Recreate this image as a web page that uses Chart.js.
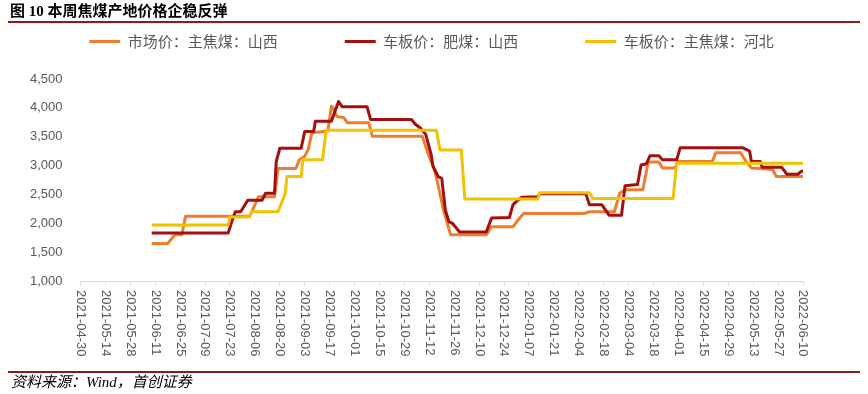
<!DOCTYPE html>
<html><head><meta charset="utf-8">
<script src="https://cdn.jsdelivr.net/npm/chart.js@4.4.1/dist/chart.umd.min.js"></script>
<style>
html,body{margin:0;padding:0;background:#fff;}
#wrap{position:relative;width:868px;height:394px;overflow:hidden;background:#fff;}
#c{position:absolute;left:0;top:0;}
.title{position:absolute;left:10px;top:3px;font:bold 15px 'Liberation Serif','Noto Sans CJK SC',serif;color:#000;white-space:nowrap;line-height:17px}
.rule{position:absolute;left:8px;width:852px;height:2px;background:#8E1B1B}
.src{position:absolute;left:11px;top:374px;font:italic 15px 'Liberation Serif','Noto Sans CJK SC',serif;color:#000;line-height:17px;white-space:nowrap}
</style></head>
<body><div id="wrap">
<canvas id="c" width="868" height="394"></canvas>
<div class="title">图 10 本周焦煤产地价格企稳反弹</div>
<div class="rule" style="top:21px"></div>
<div class="rule" style="top:371px"></div>
<div class="src">资料来源：Wind，首创证券</div>
</div>
<script>
// ---- data ----
const axisStart = '2021-04-30';
const axisEnd = '2022-06-10';
const tickStepDays = 14;
const yMin = 1000, yMax = 4500, yStep = 500;

const seriesNames = ['市场价：主焦煤：山西', '车板价：肥煤：山西', '车板价：主焦煤：河北'];

const marketDates = ['2021-06-09','2021-06-18','2021-06-22','2021-06-26','2021-06-28','2021-08-03','2021-08-06','2021-08-08','2021-08-17','2021-08-19','2021-08-29','2021-08-31','2021-09-03','2021-09-05','2021-09-07','2021-09-16','2021-09-18','2021-09-19','2021-09-21','2021-09-25','2021-09-27','2021-10-09','2021-10-11','2021-11-08','2021-11-10','2021-11-12','2021-11-15','2021-11-17','2021-11-20','2021-11-24','2021-12-14','2021-12-17','2021-12-29','2022-01-01','2022-01-04','2022-02-07','2022-02-10','2022-02-24','2022-02-27','2022-03-02','2022-03-12','2022-03-15','2022-03-21','2022-03-23','2022-03-30','2022-04-01','2022-04-20','2022-04-22','2022-05-06','2022-05-09','2022-05-12','2022-05-24','2022-05-26','2022-06-10'];
const marketValues = [1650,1650,1800,1800,2120,2120,2320,2460,2460,2950,2950,3100,3160,3280,3570,3600,4030,4000,3850,3830,3740,3740,3510,3510,3330,3150,2930,2650,2230,1800,1800,1940,1940,2060,2170,2170,2200,2200,2520,2580,2580,3060,3060,2960,2960,3070,3070,3220,3220,3070,2960,2930,2810,2810];

const fatDates = ['2021-06-09','2021-07-22','2021-07-24','2021-07-26','2021-07-29','2021-08-02','2021-08-10','2021-08-12','2021-08-17','2021-08-18','2021-08-20','2021-09-01','2021-09-03','2021-09-08','2021-09-09','2021-09-18','2021-09-22','2021-09-24','2021-10-08','2021-10-10','2021-11-02','2021-11-04','2021-11-07','2021-11-10','2021-11-13','2021-11-14','2021-11-17','2021-11-19','2021-11-21','2021-11-23','2021-11-25','2021-11-29','2021-12-14','2021-12-17','2021-12-27','2021-12-29','2021-12-31','2022-01-03','2022-01-12','2022-01-13','2022-02-08','2022-02-10','2022-02-17','2022-02-21','2022-02-28','2022-03-02','2022-03-09','2022-03-11','2022-03-14','2022-03-16','2022-03-21','2022-03-23','2022-03-31','2022-04-02','2022-05-07','2022-05-11','2022-05-12','2022-05-17','2022-05-18','2022-05-29','2022-06-01','2022-06-07','2022-06-09','2022-06-10'];
const fatValues = [1830,1830,2030,2200,2200,2400,2400,2520,2520,3070,3300,3300,3590,3590,3770,3770,4110,4020,4020,3800,3800,3720,3650,3540,3200,2990,2810,2780,2230,2030,2000,1850,1850,2090,2100,2320,2380,2450,2460,2510,2510,2320,2320,2140,2140,2650,2670,3010,3030,3170,3170,3100,3100,3310,3310,3250,3070,3070,2970,2970,2850,2850,2900,2900];

const hebeiDates = ['2021-06-09','2021-07-22','2021-07-23','2021-08-03','2021-08-04','2021-08-19','2021-08-20','2021-08-23','2021-08-24','2021-09-01','2021-09-02','2021-09-13','2021-09-15','2021-11-16','2021-11-18','2021-11-30','2021-12-02','2022-01-12','2022-01-13','2022-02-10','2022-02-12','2022-03-29','2022-03-31','2022-06-10'];
const hebeiValues = [1970,1970,2110,2110,2200,2200,2280,2510,2810,2810,3100,3100,3610,3610,3270,3270,2420,2420,2530,2530,2430,2430,3040,3040];

const seriesColors = ['#ED7D31', '#A50F0F', '#F2C100'];

// ---- helpers ----
const base = (function(){const p=axisStart.split('-').map(Number);return Date.UTC(p[0],p[1]-1,p[2]);})();
function dayOf(s){const p=s.split('-').map(Number);return Math.round((Date.UTC(p[0],p[1]-1,p[2])-base)/86400000);}
function dateOf(n){return new Date(base+n*86400000).toISOString().slice(0,10);}
function pts(ds,vs){return ds.map((d,i)=>({x:dayOf(d),y:vs[i]}));}

const xLabelPlugin = {
  id:'xLabels',
  afterDraw(chart){
    const s=chart.scales.x, ctx=chart.ctx;
    ctx.save();
    ctx.font='13px "Liberation Sans", Arial, sans-serif';
    ctx.fillStyle='#595959';
    ctx.textAlign='left';
    ctx.textBaseline='middle';
    s.ticks.forEach(t=>{
      const x=s.getPixelForValue(t.value);
      ctx.save();
      ctx.translate(x, s.top+9);
      ctx.rotate(Math.PI/2);
      ctx.fillText(dateOf(t.value),0,0);
      ctx.restore();
    });
    ctx.restore();
  }
};

const mk=(i,ds,vs,order)=>({label:seriesNames[i],data:pts(ds,vs),borderColor:seriesColors[i],backgroundColor:seriesColors[i],borderWidth:3,pointRadius:0,pointHoverRadius:0,tension:0,borderJoinStyle:'round',order:order});

new Chart(document.getElementById('c'),{
  type:'line',
  data:{datasets:[mk(0,marketDates,marketValues,2),mk(1,fatDates,fatValues,1),mk(2,hebeiDates,hebeiValues,0)]},
  options:{
    responsive:false, animation:false, devicePixelRatio:1,
    layout:{padding:{top:-33,left:0,right:5,bottom:0}},
    plugins:{
      tooltip:{enabled:false},
      subtitle:{display:true,text:'',weight:500,padding:0,font:{size:20,lineHeight:1}},
      legend:{position:'top',align:'center',
        labels:{boxWidth:31,boxHeight:3,padding:67,color:'#595959',
          font:{size:15,family:"'Noto Sans CJK SC', sans-serif"},
          sort:(a,b)=>a.datasetIndex-b.datasetIndex,
          generateLabels(chart){const items=Chart.defaults.plugins.legend.labels.generateLabels(chart);items.forEach(it=>{it.lineWidth=0;it.fillStyle=it.strokeStyle;});return items;}
        }}
    },
    scales:{
      x:{type:'linear',min:dayOf(axisStart),max:dayOf(axisEnd),
        ticks:{stepSize:tickStepDays,display:false,autoSkip:false,maxTicksLimit:100},
        grid:{display:true,drawOnChartArea:false,drawTicks:true,tickLength:4,color:'#d9d9d9'},
        border:{display:true,color:'#d9d9d9'},
        afterFit(s){s.height=113;}},
      y:{type:'linear',position:'left',min:yMin,max:yMax,
        ticks:{stepSize:yStep,padding:18,color:'#595959',font:{size:13,family:"'Liberation Sans', Arial, sans-serif"},callback:v=>Number(v).toLocaleString('en-US')},
        grid:{display:false,drawTicks:false},border:{display:false},
        afterFit(s){s.width=80.5;}},
      y2:{position:'right',display:true,ticks:{display:false},grid:{display:false,drawTicks:false},border:{display:false},
        afterFit(s){s.width=60;}}
    }
  },
  plugins:[xLabelPlugin]
});
</script>
</body></html>
